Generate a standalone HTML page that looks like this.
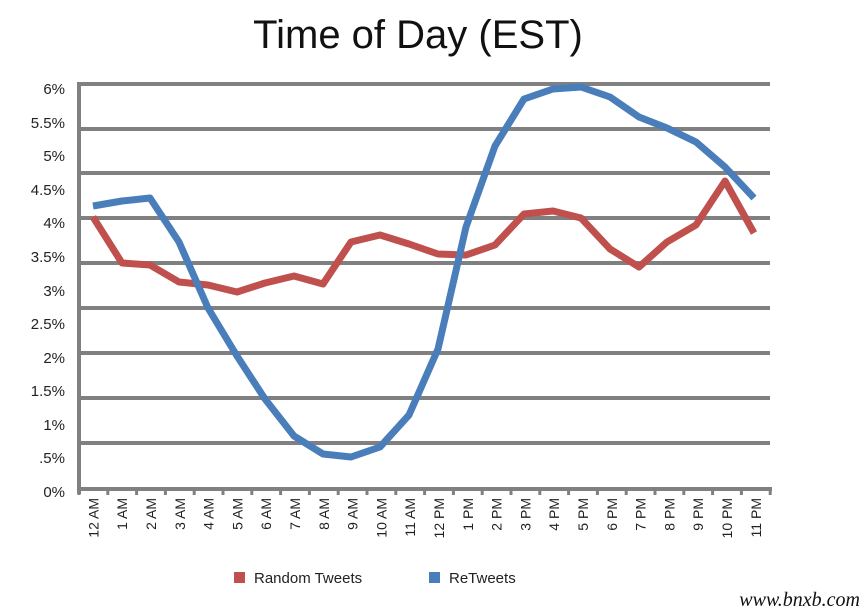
<!DOCTYPE html>
<html><head><style>
body{margin:0;background:#fff;}
svg{display:block;font-family:"Liberation Sans",sans-serif;}
</style></head><body>
<svg width="864" height="615" viewBox="0 0 864 615">
<rect width="864" height="615" fill="#fff"/>
<text x="418" y="48" font-size="40" text-anchor="middle" fill="#111">Time of Day (EST)</text>
<g stroke="#808080" stroke-width="4">
<line x1="79" y1="84" x2="770" y2="84"/><line x1="79" y1="129" x2="770" y2="129"/>
<line x1="79" y1="173" x2="770" y2="173"/><line x1="79" y1="218" x2="770" y2="218"/>
<line x1="79" y1="263" x2="770" y2="263"/><line x1="79" y1="308" x2="770" y2="308"/>
<line x1="79" y1="353" x2="770" y2="353"/><line x1="79" y1="398" x2="770" y2="398"/>
<line x1="79" y1="443" x2="770" y2="443"/><line x1="77" y1="489" x2="772" y2="489"/>
<line x1="79" y1="82" x2="79" y2="494"/>
</g>
<g stroke="#808080" stroke-width="3" id="ticks"></g>
<g font-size="15" fill="#222" text-anchor="end">
<text x="65" y="94">6%</text><text x="65" y="128">5.5%</text><text x="65" y="161">5%</text>
<text x="65" y="195">4.5%</text><text x="65" y="228">4%</text><text x="65" y="262">3.5%</text>
<text x="65" y="296">3%</text><text x="65" y="329">2.5%</text><text x="65" y="363">2%</text>
<text x="65" y="396">1.5%</text><text x="65" y="430">1%</text><text x="65" y="463">.5%</text>
<text x="65" y="497">0%</text>
</g>
<g id="xl" font-size="14" fill="#222" text-anchor="end"></g>
<polyline fill="none" stroke="#c0504d" stroke-width="7" stroke-linejoin="round" points="93,217 122,263 150,265 179,282 208,285 237,292 265,283 294,276 323,284 351,242 380,235 409,244 438,254 466,255 495,245 524,214 553,211 581,218 610,249 639,267 667,242 696,225 725,181 754,233"/>
<polyline fill="none" stroke="#4a7ebb" stroke-width="7" stroke-linejoin="round" points="93,206 122,201 150,198 179,242 208,308 237,356 265,399 294,436 323,454 351,457 380,447 409,415 438,349 466,227 495,146 524,99 553,89 581,87 610,97 639,117 667,128 696,142 725,167 754,198"/>
<rect x="234" y="572" width="11" height="11" fill="#c0504d"/>
<text x="254" y="583" font-size="15" fill="#222">Random Tweets</text>
<rect x="429" y="572" width="11" height="11" fill="#4a7ebb"/>
<text x="449" y="583" font-size="15" fill="#222">ReTweets</text>
<text x="860" y="606" font-size="20" font-style="italic" font-family="Liberation Serif,serif" text-anchor="end" fill="#111">www.bnxb.com</text>
<script>
var t=document.getElementById('ticks'),xl=document.getElementById('xl'),ns='http://www.w3.org/2000/svg';
var L=['12 AM','1 AM','2 AM','3 AM','4 AM','5 AM','6 AM','7 AM','8 AM','9 AM','10 AM','11 AM','12 PM','1 PM','2 PM','3 PM','4 PM','5 PM','6 PM','7 PM','8 PM','9 PM','10 PM','11 PM'];
for(var i=0;i<=24;i++){var x=79+i*28.8;var l=document.createElementNS(ns,'line');l.setAttribute('x1',x);l.setAttribute('x2',x);l.setAttribute('y1',489);l.setAttribute('y2',495);t.appendChild(l);}
for(var i=0;i<24;i++){var x=93.4+i*28.8+5;var e=document.createElementNS(ns,'text');e.setAttribute('transform','translate('+x+',498) rotate(-90)');e.textContent=L[i];xl.appendChild(e);}
</script>
</svg>
</body></html>
